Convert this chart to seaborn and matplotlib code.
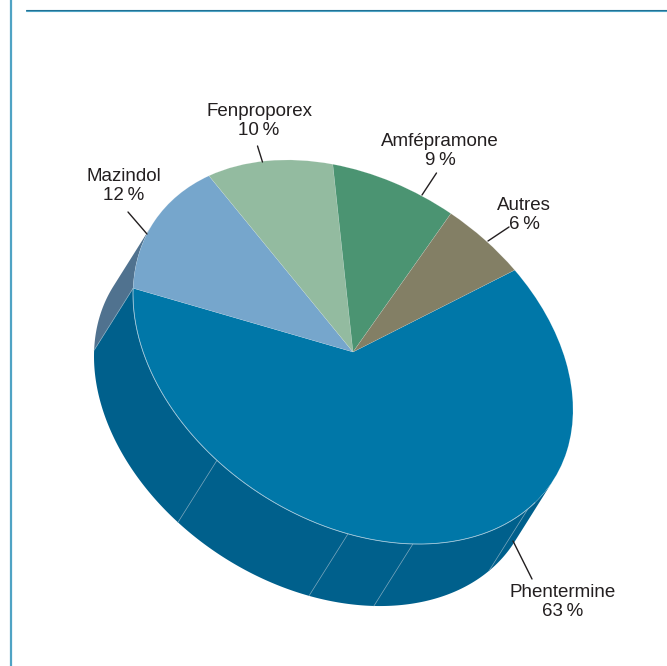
import numpy as np
import pandas as pd
import matplotlib
matplotlib.use("Agg")
import matplotlib.pyplot as plt
import seaborn as sns
from matplotlib.transforms import Affine2D

# Slices, in the order they run round the pie
drugs = ["Phentermine", "Mazindol", "Fenproporex", "Amfépramone", "Autres"]
percents = [63, 12, 10, 9, 6]
# shares as actually drawn (they differ a little from the printed %)
drawn_shares = [62.4, 13.1, 9.9, 8.8, 5.8]
top_colors = ["#0077A8", "#76A6CC", "#93BBA0", "#4B9472", "#837F65"]
side_colors = ["#00608C", "#50728F", "#5E8A76", "#3A7058", "#65624E"]

# Thin seams on the outer wall of the big slice, degrees round the rim
wall_seams = [37.3, 74.2, 91.3, 128.2]

# Label anchors and leader lines
label_x = [563, 124, 259, 440, 524]
label_y = [602, 186, 121, 151, 215]
leader_x0 = [532, 128, 257.5, 436.5, 509]
leader_y0 = [579, 212, 146, 173, 227]
leader_x1 = [513, 147, 262.5, 422, 488]
leader_y1 = [541, 234, 162, 195, 241]

W, H = 667, 666
CENTER = (353, 352)
DEPTH = (-39, 62)
START_ANGLE = -42.7
TILT = np.array([[220.0, 0.0], [57.6, 183.2]])

sns.set_theme(style="white")
plt.rcParams["font.family"] = ["Liberation Sans Narrow", "Liberation Sans", "DejaVu Sans"]


def rim(angles):
    rad = np.deg2rad(angles)
    pts = TILT @ np.vstack([np.cos(rad), np.sin(rad)])
    return pts[0] + CENTER[0], pts[1] + CENTER[1]


fig, ax = plt.subplots(figsize=(W / 100, H / 100), dpi=100)
ax.set_position([0, 0, 1, 1])

# Outer wall: every slice edge that faces the viewer
direction = np.linalg.solve(TILT, np.array(DEPTH, dtype=float))
facing = np.degrees(np.arctan2(direction[1], direction[0]))
vis_from, vis_to = facing - 90, facing + 90

edges = START_ANGLE + np.concatenate([[0], np.cumsum(drawn_shares)]) * 3.6
for i in range(len(drugs)):
    a0, a1 = max(edges[i], vis_from), min(edges[i + 1], vis_to)
    if a1 <= a0:
        continue
    x, y = rim(np.linspace(a0, a1, 200))
    ax.fill(np.concatenate([x, x[::-1] + DEPTH[0]]),
            np.concatenate([y, y[::-1] + DEPTH[1]]),
            color=side_colors[i], lw=0, zorder=1)

# Seams on the wall and the lit edge between slices on the side
for a in wall_seams + [edges[1]]:
    x, y = rim(np.array([a]))
    seam = pd.DataFrame({"x": [x[0], x[0] + DEPTH[0]], "y": [y[0], y[0] + DEPTH[1]]})
    sns.lineplot(data=seam, x="x", y="y", color="#7FA9BF", lw=0.5, sort=False,
                 estimator=None, ax=ax, zorder=2)

# Top face: an ordinary pie pushed through the tilt
wedges, _ = ax.pie(drawn_shares, colors=top_colors, startangle=START_ANGLE,
                   counterclock=True, wedgeprops={"lw": 0.3, "edgecolor": "#FFFFFF40"})
tilt = Affine2D.from_values(TILT[0, 0], TILT[1, 0], TILT[0, 1], TILT[1, 1], *CENTER)
for w in wedges:
    w.set_transform(tilt + ax.transData)
    w.set_zorder(3)

x, y = rim(np.linspace(vis_from + 10, edges[1], 300))
ax.plot(x, y, color="#9CC4D8", lw=0.6, zorder=4)

# Leaders and labels
for i, name in enumerate(drugs):
    ax.plot([leader_x0[i], leader_x1[i]], [leader_y0[i], leader_y1[i]],
            color="#231F20", lw=1, zorder=5)
    ax.text(label_x[i], label_y[i], f"{name}\n{percents[i]}\u2009%", ha="center", va="center",
            fontsize=13.5, color="#231F20", linespacing=1.2, zorder=6)

# Page rules
ax.plot([11, 11], [0, H], color="#4FA3C4", lw=1.6)
ax.plot([26, W], [9.5, 9.5], color="#1F6F92", lw=0.8)
ax.plot([26, W], [10.5, 10.5], color="#4FA3C4", lw=0.8)

ax.set_xlim(0, W)
ax.set_ylim(H, 0)
ax.set_aspect("auto")
ax.set_xlabel("")
ax.set_ylabel("")
ax.axis("off")
fig.savefig("out.png", dpi=100)
